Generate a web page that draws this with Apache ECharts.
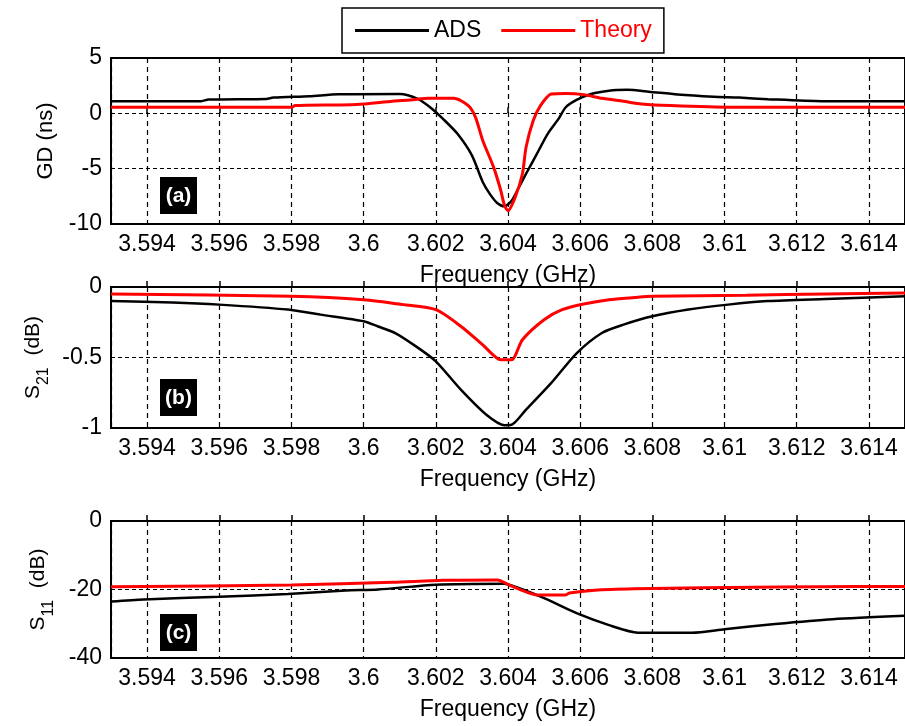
<!DOCTYPE html>
<html>
<head>
<meta charset="utf-8">
<script src="https://cdn.jsdelivr.net/npm/echarts@6/dist/echarts.min.js"></script>
<style>
  html, body { margin: 0; padding: 0; background: #fff; }
  #main { width: 905px; height: 726px; }
</style>
</head>
<body>
<div id="main"></div>
<script>
// ---- data ----
var seriesNames = ['ADS', 'Theory'];
var panelLabels = ['(a)', '(b)', '(c)'];
var xTitle = 'Frequency (GHz)';

// (a) group delay, ns
var gdAdsF = [3.593, 3.5955, 3.5957, 3.5973, 3.5975, 3.5985, 3.5993, 3.601, 3.6015, 3.6019, 3.6022, 3.6026, 3.603, 3.6033, 3.6035, 3.6037, 3.6039, 3.6041, 3.6043, 3.6045, 3.6048, 3.6051, 3.6054, 3.6056, 3.6059, 3.6063, 3.6068, 3.6073, 3.6079, 3.6087, 3.6097, 3.6104, 3.6112, 3.6127, 3.615];
var gdAdsV = [1.09, 1.1, 1.24, 1.3, 1.42, 1.55, 1.72, 1.75, 1.3, 0.4, -0.5, -1.85, -3.8, -6.2, -7.3, -8.1, -8.4, -7.9, -6.7, -5.46, -3.66, -1.85, -0.5, 0.55, 1.21, 1.75, 2.05, 2.12, 1.96, 1.7, 1.5, 1.42, 1.28, 1.1, 1.09];
var gdThF = [3.593, 3.598, 3.5981, 3.5998, 3.6008, 3.6013, 3.6018, 3.6025, 3.6029, 3.6031, 3.6033, 3.6036, 3.6038, 3.6039, 3.604, 3.6042, 3.6044, 3.6045, 3.6047, 3.6049, 3.6052, 3.6056, 3.6061, 3.6066, 3.6072, 3.6077, 3.6085, 3.6102, 3.615];
var gdThV = [0.55, 0.55, 0.7, 0.8, 1.1, 1.2, 1.36, 1.36, 0.7, -0.36, -2.46, -4.86, -6.97, -8.3, -8.8, -7.57, -5.46, -3.06, -0.65, 0.7, 1.75, 1.8, 1.69, 1.36, 1.09, 0.85, 0.7, 0.55, 0.55];

// (b) S21, dB
var s21AdsF = [3.593, 3.5947, 3.596, 3.5979, 3.5988, 3.6, 3.6004, 3.6009, 3.6015, 3.602, 3.6027, 3.6034, 3.6039, 3.6041, 3.6045, 3.6052, 3.6059, 3.6066, 3.6072, 3.608, 3.609, 3.6101, 3.6112, 3.6128, 3.615];
var s21AdsV = [-0.1, -0.11, -0.125, -0.16, -0.196, -0.243, -0.28, -0.33, -0.43, -0.527, -0.73, -0.906, -0.98, -0.977, -0.87, -0.68, -0.47, -0.326, -0.267, -0.208, -0.16, -0.125, -0.1, -0.085, -0.066];
var s21ThF = [3.593, 3.598, 3.6, 3.6011, 3.602, 3.6027, 3.6033, 3.6038, 3.6041, 3.6044, 3.605, 3.6055, 3.6061, 3.6068, 3.6075, 3.608, 3.6106, 3.6128, 3.615];
var s21ThV = [-0.05, -0.066, -0.09, -0.125, -0.161, -0.28, -0.41, -0.516, -0.516, -0.374, -0.232, -0.161, -0.12, -0.09, -0.075, -0.066, -0.058, -0.05, -0.043];

// (c) S11, dB
var s11AdsF = [3.593, 3.5939, 3.596, 3.5979, 3.5995, 3.6004, 3.602, 3.6039, 3.6042, 3.605, 3.6059, 3.6068, 3.6076, 3.6091, 3.61, 3.6114, 3.613, 3.615];
var s11AdsV = [-23.5, -22.9, -22.1, -21.3, -20.3, -20.0, -18.6, -18.3, -19.2, -22.5, -26.9, -30.4, -32.6, -32.6, -31.6, -30.1, -28.7, -27.7];
var s11ThF = [3.593, 3.598, 3.6008, 3.6022, 3.6037, 3.6041, 3.6045, 3.6048, 3.6056, 3.6057, 3.6064, 3.6075, 3.6094, 3.6137, 3.615];
var s11ThV = [-19.2, -18.7, -17.9, -17.3, -17.2, -19.0, -20.7, -21.6, -21.6, -21.0, -20.2, -19.8, -19.5, -19.1, -19.1];

var yMin = [-10, -1, -40];
var yMax = [5, 0, 0];
var yStep = [5, 0.5, 20];

function zip(f, v) {
  var out = [];
  for (var i = 0; i < f.length; i++) out.push([f[i], v[i]]);
  return out;
}

var FONT = "'Liberation Sans', Arial, sans-serif";
var panels = [
  { top: 58, height: 166 },
  { top: 287, height: 141 },
  { top: 521, height: 137 }
];
var yNames = [
  'GD (ns)',
  '{m|S}{s|21}{m|  (dB)}',
  '{m|S}{s|11}{m|  (dB)}'
];

var grids = [], xAxes = [], yAxes = [], series = [];
panels.forEach(function (p, i) {
  grids.push({
    left: 111, top: p.top, width: 798, height: p.height,
    show: true, borderColor: '#000', borderWidth: 2, backgroundColor: 'transparent'
  });
  xAxes.push({
    type: 'value', gridIndex: i, min: 3.593, max: 3.615, splitNumber: 11,
    name: xTitle, nameLocation: 'middle', nameGap: 40,
    nameTextStyle: { fontFamily: FONT, fontSize: 23, color: '#000' },
    axisLine: { show: false },
    axisTick: { show: true, inside: true, length: 6, lineStyle: { color: '#000', width: 1.5 } },
    axisLabel: {
      fontFamily: FONT, fontSize: 23, color: '#000', margin: 9,
      showMinLabel: false, showMaxLabel: false,
      formatter: function (v) { return String(+v.toFixed(3)); }
    },
    splitLine: { show: true, lineStyle: { color: '#000', width: 1.2, type: [5, 4] } }
  });
  yAxes.push({
    type: 'value', gridIndex: i, min: yMin[i], max: yMax[i], interval: yStep[i],
    name: yNames[i], nameLocation: 'middle', nameRotate: 90, nameGap: 54,
    nameTextStyle: {
      fontFamily: FONT, fontSize: 22, color: '#000',
      rich: {
        m: { fontFamily: FONT, fontSize: 21, color: '#000', verticalAlign: 'top' },
        s: { fontFamily: FONT, fontSize: 16, color: '#000', verticalAlign: 'top', padding: [13, 0, 0, 0] }
      }
    },
    axisLine: { show: false },
    axisTick: { show: false },
    axisLabel: { fontFamily: FONT, fontSize: 23, color: '#000', margin: 9 },
    splitLine: { show: true, lineStyle: { color: '#000', width: 1.2, type: [4, 3] } }
  });
});

var adsData = [zip(gdAdsF, gdAdsV), zip(s21AdsF, s21AdsV), zip(s11AdsF, s11AdsV)];
var thData = [zip(gdThF, gdThV), zip(s21ThF, s21ThV), zip(s11ThF, s11ThV)];
for (var i = 0; i < 3; i++) {
  series.push({
    name: seriesNames[0], type: 'line', xAxisIndex: i, yAxisIndex: i,
    data: adsData[i], symbol: 'none', smooth: 0.25,
    lineStyle: { color: '#000', width: 2.5 }, itemStyle: { color: '#000' }
  });
  series.push({
    name: seriesNames[1], type: 'line', xAxisIndex: i, yAxisIndex: i,
    data: thData[i], symbol: 'none', smooth: 0.25,
    lineStyle: { color: '#ff0000', width: 3 }, itemStyle: { color: '#ff0000' }
  });
}

var graphics = [];
var boxY = [177, 379, 614];
for (var k = 0; k < 3; k++) {
  graphics.push({
    type: 'group', left: 160, top: boxY[k],
    children: [
      { type: 'rect', shape: { x: 0, y: 0, width: 37, height: 37 }, style: { fill: '#000' } },
      { type: 'text', x: 18.5, y: 19, style: { text: panelLabels[k], fill: '#fff', font: 'bold 21px ' + FONT, align: 'center', verticalAlign: 'middle' } }
    ]
  });
}

var myChart = echarts.init(document.getElementById('main'));
var option = {
  animation: false,
  backgroundColor: '#fff',
  legend: {
    left: 342, top: 8,
    padding: [11, 12, 11, 13],
    borderColor: '#000', borderWidth: 1.5,
    itemWidth: 74, itemHeight: 3, itemGap: 20,
    icon: 'rect',
    textStyle: { fontFamily: FONT, fontSize: 23, color: '#000' },
    data: [
      { name: 'ADS', textStyle: { color: '#000' } },
      { name: 'Theory', textStyle: { color: '#ff0000' } }
    ]
  },
  grid: grids,
  xAxis: xAxes,
  yAxis: yAxes,
  series: series,
  graphic: graphics
};
myChart.setOption(option);
</script>
</body>
</html>
